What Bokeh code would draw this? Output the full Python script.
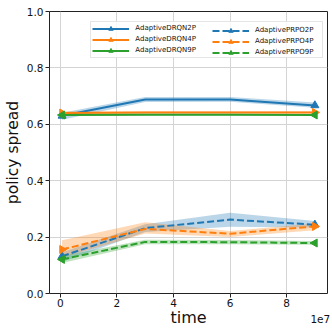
import math
from bokeh.plotting import figure
from bokeh.models import Legend, LegendItem, Label, FixedTicker, Range1d
from bokeh.embed import file_html
from bokeh.resources import INLINE

# ---- data ----
steps = [6e5, 3e7, 6e7, 9e7]

drqn2p_mean = [0.630, 0.688, 0.688, 0.667]
drqn2p_lo = [0.616, 0.679, 0.680, 0.659]
drqn2p_hi = [0.641, 0.697, 0.697, 0.677]

drqn4p_mean = [0.640, 0.642, 0.642, 0.642]
drqn4p_lo = [0.635, 0.638, 0.638, 0.638]
drqn4p_hi = [0.645, 0.646, 0.646, 0.646]

drqn9p_mean = [0.633, 0.634, 0.634, 0.633]
drqn9p_lo = [0.629, 0.631, 0.631, 0.630]
drqn9p_hi = [0.637, 0.637, 0.637, 0.636]

prpo2p_mean = [0.132, 0.232, 0.262, 0.244]
prpo2p_lo = [0.112, 0.218, 0.237, 0.234]
prpo2p_hi = [0.146, 0.246, 0.286, 0.257]

prpo4p_mean = [0.156, 0.229, 0.212, 0.238]
prpo4p_lo = [0.128, 0.213, 0.200, 0.224]
prpo4p_hi = [0.189, 0.253, 0.222, 0.248]

prpo9p_mean = [0.121, 0.183, 0.182, 0.179]
prpo9p_lo = [0.108, 0.175, 0.175, 0.173]
prpo9p_hi = [0.133, 0.191, 0.190, 0.186]

x_ticks = [0, 2e7, 4e7, 6e7, 8e7]
x_tick_labels = ["0", "2", "4", "6", "8"]
y_ticks = [0.0, 0.2, 0.4, 0.6, 0.8, 1.0]

FONT = "DejaVu Sans"
BLUE, ORANGE, GREEN = "#1f77b4", "#ff7f0e", "#2ca02c"

p = figure(width=332, height=332, output_backend="svg", toolbar_location=None,
           x_range=Range1d(-0.385e7, 9.447e7), y_range=Range1d(0.0, 1.0),
           min_border_left=46, min_border_right=5, min_border_top=11, min_border_bottom=39)
p.background_fill_color = "white"
p.border_fill_color = "white"
p.outline_line_color = "#222222"
p.outline_line_width = 1

for ax in (p.xaxis[0], p.yaxis[0]):
    ax.axis_line_color = None
    ax.major_tick_line_color = "#222222"
    ax.major_tick_out = 4
    ax.major_tick_in = 0
    ax.minor_tick_line_color = None
    ax.major_label_text_font = FONT
    ax.major_label_text_font_size = "10.5px"
    ax.major_label_text_color = "#111111"
    ax.major_label_standoff = 2
    ax.axis_label_text_font = FONT
    ax.axis_label_text_font_style = "normal"
    ax.axis_label_text_color = "#111111"

p.xaxis[0].axis_label = "time"
p.xaxis[0].axis_label_text_font_size = "16px"
p.xaxis[0].major_label_standoff = 1
p.xaxis[0].axis_label_standoff = -2
p.yaxis[0].axis_label = "policy spread"
p.yaxis[0].axis_label_text_font_size = "15.5px"
p.yaxis[0].axis_label_standoff = 2

p.xaxis[0].ticker = FixedTicker(ticks=x_ticks)
p.xaxis[0].major_label_overrides = {t: l for t, l in zip(x_ticks, x_tick_labels)}
p.yaxis[0].ticker = FixedTicker(ticks=y_ticks)
p.yaxis[0].major_label_overrides = {t: f"{t:.1f}" for t in y_ticks}

p.xgrid.grid_line_color = "#d4d4d4"
p.ygrid.grid_line_color = "#d4d4d4"
p.xgrid.ticker = FixedTicker(ticks=x_ticks)
p.ygrid.ticker = FixedTicker(ticks=y_ticks)

series = [
    ("AdaptiveDRQN2P", drqn2p_mean, drqn2p_lo, drqn2p_hi, BLUE, "solid", "triangle", 0.0),
    ("AdaptiveDRQN4P", drqn4p_mean, drqn4p_lo, drqn4p_hi, ORANGE, "solid", "triangle", -math.pi / 2),
    ("AdaptiveDRQN9P", drqn9p_mean, drqn9p_lo, drqn9p_hi, GREEN, "solid", "triangle", math.pi / 2),
    ("AdaptivePRPO2P", prpo2p_mean, prpo2p_lo, prpo2p_hi, BLUE, "7 3", "triangle", 0.0),
    ("AdaptivePRPO4P", prpo4p_mean, prpo4p_lo, prpo4p_hi, ORANGE, "7 3", "triangle", -math.pi / 2),
    ("AdaptivePRPO9P", prpo9p_mean, prpo9p_lo, prpo9p_hi, GREEN, "7 3", "triangle", math.pi / 2),
]

items = []
for name, mean, lo, hi, color, dash, marker, ang in series:
    p.varea(x=steps, y1=lo, y2=hi, fill_color=color, fill_alpha=0.3)
for name, mean, lo, hi, color, dash, marker, ang in series:
    ln = p.line(steps, mean, line_color=color, line_width=2, line_dash=dash)
    sc = p.scatter([steps[0], steps[-1]], [mean[0], mean[-1]], marker=marker, size=8,
                   angle=ang, fill_color=color, line_color=color)
    items.append(LegendItem(label=name, renderers=[ln, sc]))

leg_kw = dict(label_text_font=FONT, label_text_font_size="7px", label_text_color="#111111",
              glyph_width=37, glyph_height=11, label_height=11,
              label_standoff=6, spacing=0, padding=1, margin=0)
# left column carries the frame/background that spans both columns
leg1 = Legend(items=items[:3], location=(41.3, 235.5), label_width=186,
              border_line_color="#cccccc", border_line_width=1,
              background_fill_color="white", background_fill_alpha=0.8, **leg_kw)
leg2 = Legend(items=items[3:], location=(163, 235.5),
              border_line_color=None, background_fill_alpha=0, **leg_kw)
p.add_layout(leg1, "center")
p.add_layout(leg2, "center")

# axis offset text, hosted in the (otherwise empty) top panel so it is not clipped
p.add_layout(Label(x=280.7, y=-307.4, x_units="screen", y_units="screen", text="1e7",
                   text_font=FONT, text_font_size="10.5px", text_align="right",
                   text_baseline="alphabetic", text_color="#111111"), "above")

open("out.html", "w").write(file_html(p, INLINE))
